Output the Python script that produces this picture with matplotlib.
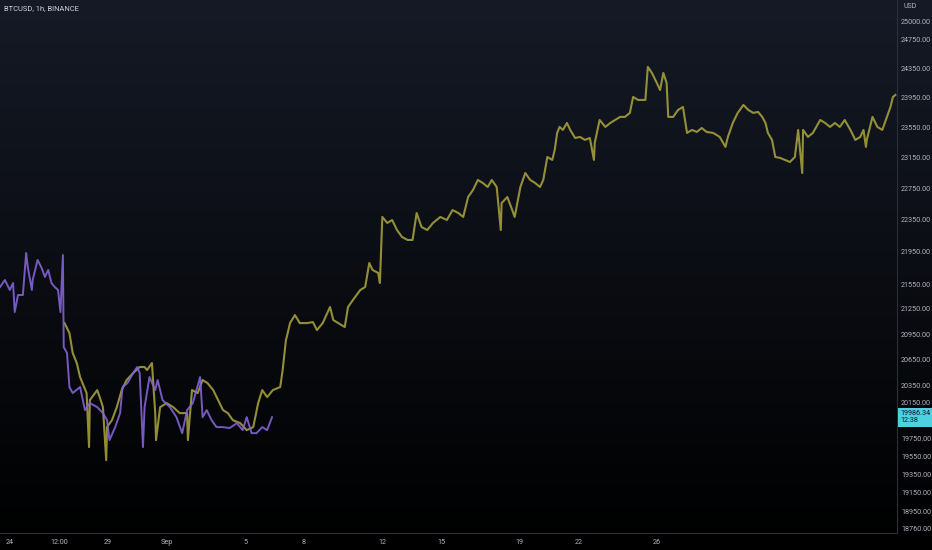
import numpy as np
import matplotlib
matplotlib.use('Agg')
import matplotlib.pyplot as plt
from matplotlib.colors import LinearSegmentedColormap
from matplotlib.ticker import NullLocator, NullFormatter

title = "BTCUSD, 1h, BINANCE"
currency = "USD"
start = np.datetime64('2022-08-24T00:00')

purple_hours = [-12, -6, 0, 4, 6, 10, 16, 20, 22, 27,
                28, 34, 39, 43, 47, 51, 55, 59, 62, 65,
                66, 70, 73, 77, 86, 92, 98, 107, 114, 119,
                122, 129, 135, 138, 144, 151, 156, 159, 163, 165,
                171, 178, 181, 187, 196, 204, 211, 217, 224, 233,
                236, 241, 247, 253, 261, 269, 278, 285, 290, 296,
                302, 309, 315, 321]
purple_prices = [21515, 21601, 21479, 21564, 21212, 21418, 21418, 21934, 21760, 21479,
                 21601, 21847, 21748, 21638, 21724, 21564, 21515, 21479, 21212, 21909,
                 20796, 20726, 20330, 20261, 20330, 20066, 20146, 20100, 20032, 19952,
                 19728, 19874, 20032, 20330, 20376, 20492, 20562, 20492, 19650, 20100,
                 20446, 20295, 20411, 20180, 20100, 19986, 19806, 20066, 20146, 20446,
                 19986, 20066, 19952, 19874, 19874, 19863, 19919, 19840, 19986, 19806,
                 19806, 19874, 19840, 19986]

yellow_hours = [67, 73, 77, 82, 86, 89, 94, 97, 98, 107,
                110, 114, 118, 119, 125, 131, 137, 143, 151, 159,
                165, 168, 174, 178, 179, 184, 192, 200, 208, 217,
                218, 223, 230, 236, 242, 249, 255, 261, 267, 273,
                282, 290, 298, 304, 309, 315, 322, 331, 334, 338,
                339, 343, 349, 355, 364, 371, 376, 383, 392, 396,
                402, 410, 414, 420, 429, 435, 440, 444, 451, 453,
                456, 462, 468, 474, 480, 487, 493, 498, 504, 511,
                518, 527, 535, 542, 549, 555, 561, 567, 573, 579,
                585, 590, 596, 601, 602, 609, 615, 618, 625, 631,
                637, 643, 649, 653, 658, 664, 667, 670, 673, 677,
                682, 686, 692, 698, 704, 710, 715, 716, 722, 729,
                735, 741, 747, 753, 759, 763, 769, 778, 781, 786,
                792, 796, 800, 804, 806, 812, 818, 824, 829, 835,
                841, 847, 853, 861, 869, 876, 879, 885, 891, 898,
                904, 910, 916, 921, 925, 928, 933, 937, 943, 949,
                955, 961, 965, 970, 971, 977, 983, 992, 998, 1004,
                1010, 1016, 1022, 1029, 1035, 1041, 1045, 1048, 1049, 1056,
                1062, 1068, 1071, 1078, 1081, 1084]
yellow_prices = [21080, 20961, 20726, 20608, 20446, 20376, 20261, 19650, 20180, 20295,
                 20215, 20100, 19505, 19874, 19952, 20100, 20295, 20411, 20492, 20562,
                 20562, 20527, 20608, 20032, 19728, 20100, 20146, 20100, 20032, 20032,
                 19728, 20295, 20261, 20411, 20376, 20295, 20180, 20066, 20032, 19952,
                 19919, 19840, 19874, 20146, 20295, 20215, 20295, 20330, 20527, 20879,
                 20914, 21080, 21176, 21080, 21080, 21092, 20997, 21080, 21273, 21116,
                 21080, 21033, 21273, 21357, 21479, 21515, 21810, 21724, 21687, 21564,
                 22386, 22310, 22347, 22221, 22134, 22096, 22096, 22436, 22259, 22221,
                 22310, 22386, 22347, 22474, 22436, 22386, 22640, 22731, 22860, 22821,
                 22769, 22860, 22769, 22221, 22563, 22640, 22474, 22386, 22769, 22950,
                 22860, 22821, 22769, 22860, 23160, 23121, 23251, 23477, 23557, 23517,
                 23610, 23517, 23410, 23424, 23384, 23410, 23121, 23344, 23650, 23557,
                 23610, 23650, 23691, 23691, 23745, 23960, 23920, 23920, 24372, 24288,
                 24151, 24055, 24288, 24151, 23691, 23691, 23785, 23825, 23477, 23517,
                 23490, 23543, 23490, 23477, 23424, 23292, 23424, 23610, 23745, 23852,
                 23785, 23745, 23758, 23691, 23610, 23477, 23384, 23160, 23147, 23121,
                 23094, 23160, 23517, 22950, 23517, 23424, 23477, 23650, 23610, 23557,
                 23610, 23557, 23650, 23517, 23384, 23424, 23517, 23292, 23384, 23691,
                 23557, 23517, 23610, 23825, 23960, 23988]

price_ticks = [25000, 24750, 24350, 23950, 23550, 23150, 22750, 22350, 21950, 21550,
               21250, 20950, 20650, 20350, 20150, 19750, 19550, 19350, 19150, 18950, 18760]
date_ticks = ['2022-08-24T00:00', '2022-08-26T12:00', '2022-08-29T00:00', '2022-09-01T00:00',
              '2022-09-05T00:00', '2022-09-08T00:00', '2022-09-12T00:00', '2022-09-15T00:00',
              '2022-09-19T00:00', '2022-09-22T00:00', '2022-09-26T00:00']
date_labels = ['24', '12:00', '29', 'Sep', '5', '8', '12', '15', '19', '22', '26']
last_price = 19986.34
countdown = "12:38"

FONT = ['Roboto', 'DejaVu Sans']
W, H = 932, 550
fig = plt.figure(figsize=(W / 100, H / 100), dpi=100)

# background gradient
bg = fig.add_axes([0, 0, 1, 1], zorder=-10)
grad = np.linspace(0, 1, 256).reshape(-1, 1)
cmap = LinearSegmentedColormap.from_list('bg', ['#151a26', '#0b0d13', '#000000'])
bg.imshow(grad, aspect='auto', cmap=cmap, extent=[0, 1, 0, 1])
bg.axis('off')

ax = fig.add_axes([0, 17 / H, 897 / W, 533 / H])
ax.patch.set_alpha(0)
ax.set_yscale('log')

def to_time(hours):
    return start + np.array(hours, dtype='timedelta64[h]')

yt = to_time(yellow_hours)
pt = to_time(purple_hours)
yc = '#a39e3c'
pc = '#8263d4'
ax.plot(yt, yellow_prices, color=yc, lw=1.5, alpha=0.9)
ax.plot(pt, purple_prices, color=pc, lw=1.4, alpha=0.9)

ax.set_xlim(start - np.timedelta64(12, 'h'), start + np.timedelta64(1086, 'h'))
ax.set_ylim(18717, 25313)

ax.set_xticks(np.array(date_ticks, dtype='datetime64[m]'))
ax.set_xticklabels(date_labels)
ax.xaxis.set_minor_locator(NullLocator())
ax.yaxis.tick_right()
ax.set_yticks(price_ticks)
ax.set_yticklabels([f"{v:.2f}" for v in price_ticks])
ax.yaxis.set_minor_locator(NullLocator())
ax.yaxis.set_minor_formatter(NullFormatter())
ax.tick_params(axis='both', length=0, colors='#b2b5be', labelsize=5.2)
ax.tick_params(axis='y', pad=3)
ax.tick_params(axis='x', pad=4)
for lab in ax.get_xticklabels() + ax.get_yticklabels():
    lab.set_family(FONT)

for s in ['top', 'left']:
    ax.spines[s].set_visible(False)
for s in ['right', 'bottom']:
    ax.spines[s].set_color('#2a2e39')
    ax.spines[s].set_linewidth(0.8)

fig.text(4 / W, 1 - 9 / H, title, fontsize=5.4, color='#d1d4dc', va='center', ha='left', family=FONT)
fig.text(903 / W, 1 - 7 / H, currency, fontsize=5.0, color='#b2b5be', va='center', ha='left', family=FONT)

ax.annotate(f"{last_price:.2f}\n{countdown}", xy=(1.0, last_price), xycoords=('axes fraction', 'data'),
            xytext=(2.5, 0), textcoords='offset points', ha='left', va='center',
            fontsize=5.2, color='#131722', family=FONT, linespacing=1.1, annotation_clip=False,
            bbox=dict(boxstyle='square,pad=0.3', fc='#4dd0e1', ec='none'))

fig.savefig('out.png', dpi=100)
